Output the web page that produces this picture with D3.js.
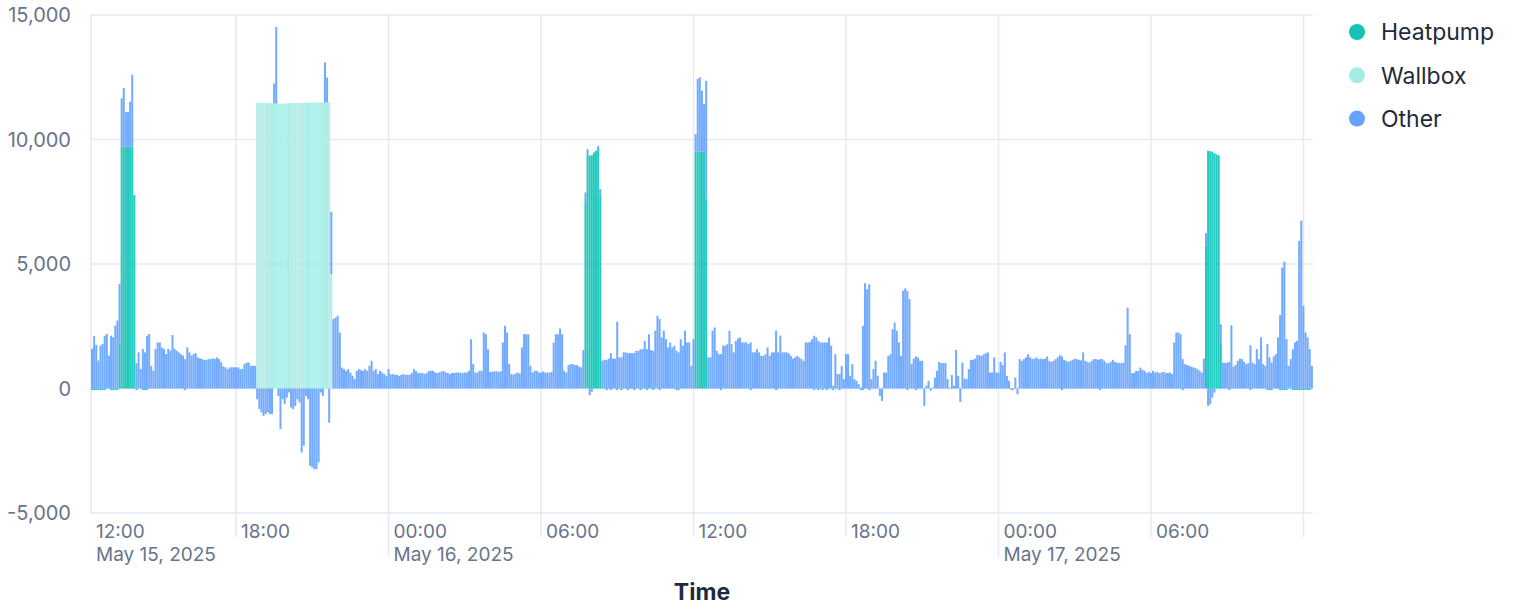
<!DOCTYPE html>
<html>
<head>
<meta charset="utf-8">
<script src="https://cdn.jsdelivr.net/npm/d3@7"></script>
<style>
  html, body { margin: 0; padding: 0; background: #fff; }
  svg { display: block; font-family: Inter, "Noto Sans", sans-serif; }
</style>
</head>
<body>
<div id="chart"></div>
<script>
/* ═══ Power by consumer — stacked 5-minute bars ═══ */

const START = '2025-05-15T12:20';
const STEP_MIN = 5;

// "Other" consumption in W, one value per 5-minute bar (rows = one hour)
const other = [
  1590, 2100, 1750, 1120, 1720, 1790, 2120, 2190, 1320, 2120, 2060, 2530,
  2730, 2400, 1950, 2350, 1410, 1410, 1810, 2880, 0, 1020, 1450, 780,
  1590, 1450, 2120, 2190, 910, 710, 1590, 1850, 1850, 1650, 1590, 1380,
  1590, 1520, 2150, 1590, 1520, 1450, 1380, 1320, 1180, 1650, 1450, 1320,
  1380, 1420, 1250, 1210, 1180, 1150, 1140, 1180, 1180, 1210, 1180, 1250,
  1180, 1050, 890, 850, 780, 850, 850, 850, 850, 850, 780, 780,
  980, 1040, 1040, 910, 910, 910, -430, -830, -960, -1100, -1030, -960,
  -1030, -1030, 800, 3080, -300, -1630, -430, -630, -360, -160, -760, -830,
  -700, -430, -560, -2570, -2300, -300, -430, -3110, -3170, -3240, -3240, -2970,
  -160, -300, 1610, 1000, -1370, 2500, 2790, 2850, 2920, 2250, 840, 780,
  710, 780, 640, 510, 375, 710, 780, 740, 710, 780, 710, 910,
  1110, 710, 780, 580, 710, 640, 580, 510, 780, 580, 580, 550,
  550, 510, 550, 580, 550, 550, 550, 620, 780, 700, 620, 620,
  620, 580, 620, 710, 710, 710, 650, 620, 650, 680, 710, 650,
  620, 580, 620, 620, 640, 640, 640, 620, 640, 640, 710, 1980,
  980, 640, 640, 710, 710, 2250, 2180, 1580, 670, 670, 690, 690,
  670, 690, 1850, 2520, 2250, 980, 575, 560, 600, 640, 600, 1650,
  2180, 2180, 2180, 910, 640, 710, 710, 640, 640, 680, 640, 640,
  640, 670, 1850, 2180, 2180, 2410, 2180, 710, 640, 940, 980, 980,
  940, 940, 880, 850, 1550, 330, 200, -270, -130, 0, 0, 60,
  270, 1110, 1150, 1150, 1200, 1420, 1200, 1200, 2680, 1250, 1250, 1450,
  1450, 1420, 1420, 1420, 1420, 1510, 1510, 1580, 1580, 1910, 1580, 2180,
  1550, 1510, 2320, 2920, 2790, 2050, 2320, 1980, 1650, 1850, 1650, 1720,
  1510, 1450, 1980, 1720, 2320, 1850, 1850, 910, 1980, 710, 2920, 2990,
  2450, 1910, 4750, 1250, 1250, 2320, 2450, 1510, 1380, 1380, 1720, 1720,
  1780, 2320, 1780, 1450, 1910, 2010, 2050, 1850, 1850, 1850, 1780, 1850,
  1450, 1450, 1580, 1450, 1310, 1310, 1380, 1650, 1310, 1450, 1450, 2320,
  1450, 2120, 1450, 1450, 1450, 1410, 1310, 1200, 1250, 1310, 1250, 1180,
  1110, 1850, 1850, 1870, 1980, 2120, 2050, 1910, 1850, 1850, 1850, 1850,
  2050, 1720, 110, 1380, 580, 580, 910, 375, 1380, 1380, 510, 980,
  375, 310, 175, 40, 2520, 4230, 3990, 4190, 375, 780, 1110, 510,
  -300, -500, 640, 640, 1310, 1380, 2380, 2650, 2320, 1850, 1310, 3920,
  4020, 3920, 3590, 980, 1200, 1290, 1250, 1110, 1110, -700, 110, 310,
  -90, 40, 440, 710, 1070, 1020, 1020, 1020, 375, -30, 540, 110,
  1550, 510, -540, 1040, 400, 375, 780, 1150, 1150, 1200, 1340, 1340,
  1310, 1370, 1410, 1450, 640, 640, 1250, 640, 640, 1070, 940, 1450,
  510, 310, -60, -60, 440, -230, 1180, 1110, 1180, 1250, 1380, 1250,
  1180, 1200, 1250, 1180, 1200, 1180, 1200, 1290, 1110, 1070, 1110, 1180,
  1250, 1340, 1290, 1150, 1110, 1070, 1110, 1150, 1200, 1180, 1150, 1130,
  1450, 1110, 1070, 1040, 1110, 1180, 1180, 1150, 1180, 1180, 1110, 1020,
  1020, 1070, 1150, 1070, 1040, 1020, 1020, 1040, 1740, 3250, 2180, 620,
  620, 710, 710, 840, 750, 710, 620, 670, 620, 710, 640, 670,
  620, 640, 670, 620, 620, 640, 580, 1850, 2250, 2250, 2180, 1180,
  980, 950, 910, 880, 850, 820, 780, 710, 640, 1200, 510, -700,
  -630, -360, -160, 0, 0, 730, 1040, 1020, 1040, 1070, 2540, 880,
  940, 1110, 1200, 1180, 1070, 980, 1020, 1740, 1040, 980, 1580, 1180,
  2050, 980, 910, 1780, 1250, 1040, 1290, 1380, 2050, 2950, 4860, 5090,
  1980, 910, 1180, 1580, 1850, 1910, 5930, 6740, 3320, 2250, 2050, 1580,
  910
];

// Heatpump runs: bar index where the run starts + W per bar
const heatpumpRuns = [
  { from: 13,  values: [1800, 9700, 9720, 9700, 9690, 9710, 9720, 7770] },
  { from: 233, values: [7540, 9410, 9350, 9370, 9480, 9550, 9680, 7740] },
  { from: 285, values: [9510, 9510, 9510, 9510, 9510, 7600] },
  { from: 526, values: [5730, 9550, 9530, 9510, 9450, 9400, 9370, 1850] }
];
// bars where the heatpump shows its small standby draw below zero
const heatpumpIdle = [
  0, 1, 2, 3, 4, 5, 6, 9, 10, 11, 12, 21, 24, 25, 26, 44,
  243, 245, 248, 250, 253, 256, 259, 262, 265, 268,
  276, 277, 297, 311, 323, 341, 343, 345, 347, 350, 353, 363, 364, 367,
  385, 389, 458, 476, 515, 537, 547, 555, 556, 557,
  561, 562, 563, 564, 567, 568, 569, 570, 571, 572, 573, 574, 575
];
const HEATPUMP_IDLE_W = -60;

const wallboxRuns = [
  { from: 78, values: [
    11480, 11480, 11470, 11470, 11480, 11470, 11460, 11450, 11450, 11440, 11440, 11430,
    11440, 11450, 11450, 11460, 11460, 11460, 11470, 11470, 11470, 11470, 11480, 11480,
    11480, 11480, 11480, 11490, 11490, 11490, 11490, 11490, 11490, 11490, 11490, 4600
  ] }
];

const seriesKeys   = ['Heatpump', 'Wallbox', 'Other'];
const seriesColors = ['#12c3b6', '#a6ece6', '#65a3ff'];

const yTicks = [-5000, 0, 5000, 10000, 15000];
const xTicks = [
  '2025-05-15T12:00', '2025-05-15T18:00', '2025-05-16T00:00', '2025-05-16T06:00',
  '2025-05-16T12:00', '2025-05-16T18:00', '2025-05-17T00:00', '2025-05-17T06:00',
  '2025-05-17T12:00'
];
const xTickLabels = [
  ['12:00', 'May 15, 2025'], ['18:00'], ['00:00', 'May 16, 2025'], ['06:00'],
  ['12:00'], ['18:00'], ['00:00', 'May 17, 2025'], ['06:00'], []
];

// ─── build rows ───
const parseTime = d3.timeParse('%Y-%m-%dT%H:%M');
const t0 = parseTime(START);
const rows = other.map((v, i) => ({
  time: d3.timeMinute.offset(t0, i * STEP_MIN),
  Heatpump: 0, Wallbox: 0, Other: v
}));
heatpumpIdle.forEach(i => { rows[i].Heatpump = HEATPUMP_IDLE_W; });
heatpumpRuns.forEach(r => r.values.forEach((v, k) => { rows[r.from + k].Heatpump = v; }));
wallboxRuns.forEach(r => r.values.forEach((v, k) => { rows[r.from + k].Wallbox = v; }));

// ─── layout ───
const W = 1520, H = 614;
const plot = { left: 91, right: 1313, top: 15, bottom: 513 };
const GRID = '#e6e9f3';
const LABEL = '#67748c';
const DARK = '#1f2a3d';

const svg = d3.select('#chart').append('svg')
  .attr('width', W).attr('height', H);

const half = STEP_MIN / 2;
const x = d3.scaleTime()
  .domain([d3.timeSecond.offset(t0, -half * 60), d3.timeSecond.offset(t0, (rows.length - 0.5) * STEP_MIN * 60)])
  .range([plot.left, plot.right]);
const y = d3.scaleLinear().domain([-5000, 15000]).range([plot.bottom, plot.top]);

const tickDates = xTicks.map(parseTime);

// Grid
const grid = svg.append('g').attr('stroke', GRID).attr('stroke-width', 1.5);
grid.selectAll('line.h').data(yTicks).join('line')
  .attr('class', 'h')
  .attr('x1', plot.left).attr('x2', plot.right)
  .attr('y1', d => y(d)).attr('y2', d => y(d));
grid.append('line')
  .attr('x1', plot.left).attr('x2', plot.left)
  .attr('y1', plot.top).attr('y2', plot.bottom);
const inRange = tickDates.map((d, i) => ({ d, i })).filter(o => x(o.d) >= plot.left && x(o.d) <= plot.right);
grid.selectAll('line.v').data(inRange).join('line')
  .attr('class', 'v')
  .attr('x1', o => x(o.d)).attr('x2', o => x(o.d))
  .attr('y1', plot.top)
  .attr('y2', o => plot.bottom + (xTickLabels[o.i].length > 1 ? 44 : 24));

// Bars
const stack = d3.stack().keys(seriesKeys).offset(d3.stackOffsetDiverging);
const layers = stack(rows);
const barX = d => x(d3.timeSecond.offset(d.data.time, -half * 60));
const barW = d => x(d3.timeSecond.offset(d.data.time, half * 60)) - barX(d) - 0.12;

svg.append('g').selectAll('g').data(layers).join('g')
  .attr('fill', (d, i) => seriesColors[i])
  .attr('fill-opacity', 0.92)
  .selectAll('rect').data(d => d.filter(s => s[1] !== s[0])).join('rect')
  .attr('x', barX)
  .attr('width', barW)
  .attr('y', d => y(Math.max(d[0], d[1])))
  .attr('height', d => Math.abs(y(d[0]) - y(d[1])));

// Y axis labels (plain hyphen for negatives, as in the original)
const fmtY = d => d3.format(',')(d).replace('\u2212', '-');
svg.append('g').selectAll('text').data(yTicks).join('text')
  .attr('x', 71).attr('y', d => y(d)).attr('dy', '0.36em')
  .attr('text-anchor', 'end')
  .attr('font-size', 20).attr('fill', LABEL)
  .text(fmtY);

// X axis labels (first one flush with the left edge)
const xl = svg.append('g').attr('font-size', 19).attr('fill', LABEL);
tickDates.forEach((d, i) => {
  const px = Math.max(x(d), plot.left) + 5;
  xTickLabels[i].forEach((s, k) => {
    xl.append('text').attr('x', px).attr('y', 538 + k * 23).text(s);
  });
});

// Axis title
svg.append('text')
  .attr('x', (plot.left + plot.right) / 2).attr('y', 600)
  .attr('text-anchor', 'middle')
  .attr('font-size', 23).attr('font-weight', 700).attr('fill', DARK)
  .text('Time');

// Legend
const lg = svg.append('g').attr('transform', 'translate(1357, 32)');
const item = lg.selectAll('g').data(seriesKeys).join('g')
  .attr('transform', (d, i) => `translate(0, ${i * 43.3})`);
item.append('circle').attr('r', 8).attr('fill', (d, i) => seriesColors[i]);
item.append('text')
  .attr('x', 24).attr('dy', '0.36em')
  .attr('font-size', 23).attr('fill', DARK)
  .text(d => d);
</script>
</body>
</html>
